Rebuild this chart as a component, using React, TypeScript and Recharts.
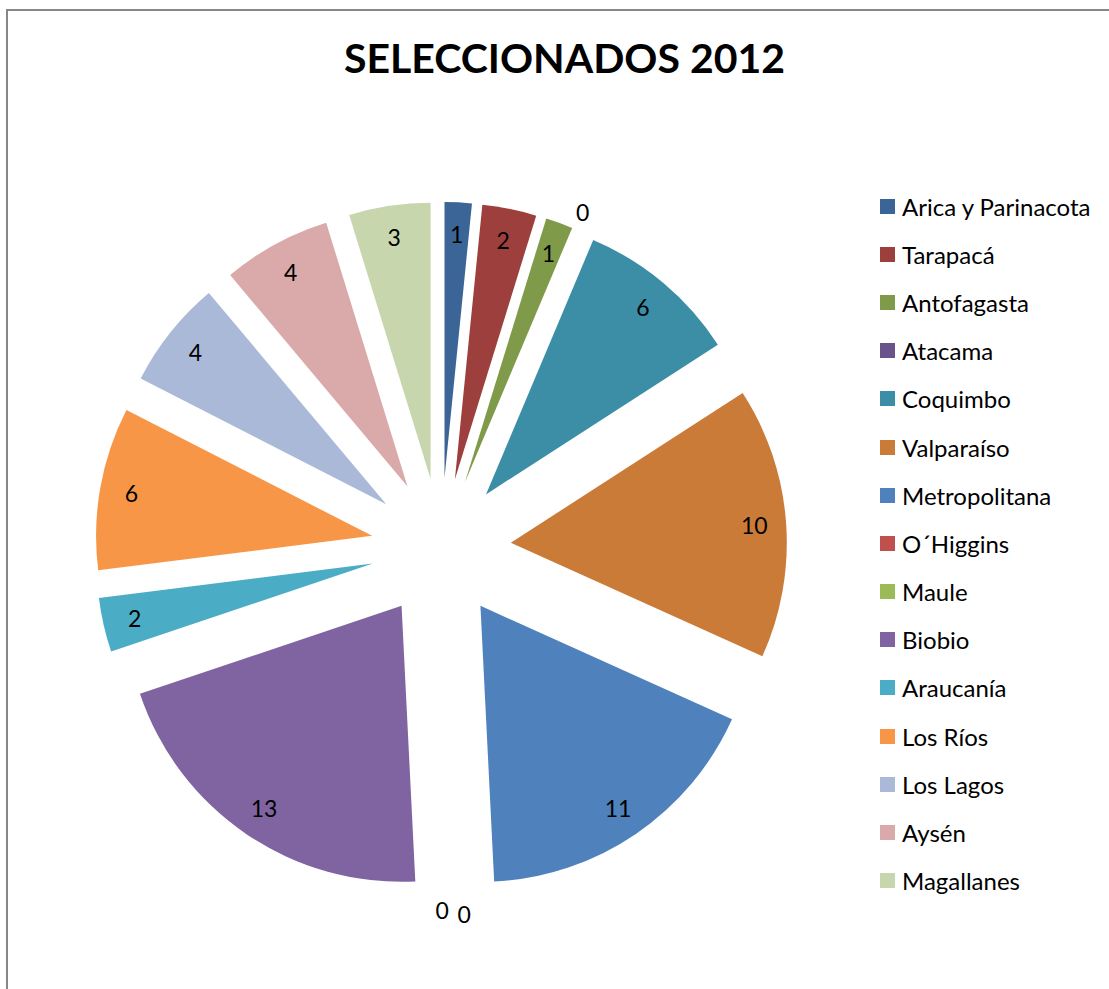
import React from "react";
import { Cell, Legend, Pie, PieChart, Sector } from "recharts";

const REGIONS = [
  "Arica y Parinacota",
  "Tarapacá",
  "Antofagasta",
  "Atacama",
  "Coquimbo",
  "Valparaíso",
  "Metropolitana",
  "O´Higgins",
  "Maule",
  "Biobio",
  "Araucanía",
  "Los Ríos",
  "Los Lagos",
  "Aysén",
  "Magallanes",
];
const SELECTED = [1, 2, 1, 0, 6, 10, 11, 0, 0, 13, 2, 6, 4, 4, 3];
const COLORS = [
  "#3C6597",
  "#9D403D",
  "#7F9A48",
  "#69538A",
  "#3B8EA5",
  "#CB7B38",
  "#4F81BD",
  "#C0504D",
  "#9BBB59",
  "#8064A2",
  "#4BACC6",
  "#F79646",
  "#AAB9D7",
  "#D9AAA9",
  "#C7D6AD",
];

const data = REGIONS.map((name, i) => ({ name, value: SELECTED[i] }));

const FONT = "Lato, 'Open Sans', sans-serif";
const EXPLODE = 70;
const RAD = Math.PI / 180;

// every slice pushed out along its own mid angle, like Excel's exploded pie
const offset = (midAngle: number, dist: number) => ({
  dx: dist * Math.cos(-midAngle * RAD),
  dy: dist * Math.sin(-midAngle * RAD),
});

function ExplodedSlice(props: any) {
  const { cx, cy, midAngle, innerRadius, outerRadius, startAngle, endAngle, fill } = props;
  const { dx, dy } = offset(midAngle, EXPLODE);
  return (
    <Sector
      cx={cx + dx}
      cy={cy + dy}
      innerRadius={innerRadius}
      outerRadius={outerRadius}
      startAngle={startAngle}
      endAngle={endAngle}
      fill={fill}
      stroke="none"
    />
  );
}

function SliceLabel(props: any) {
  const { cx, cy, midAngle, outerRadius, value, index } = props;
  const center = offset(midAngle, EXPLODE);
  const zero = value === 0;
  const pos = offset(midAngle, zero ? outerRadius + 19 : outerRadius * 0.885);
  // zero slices sharing one angle get pushed apart, as Excel does
  let nudgeX = 0;
  let nudgeY = 0;
  if (zero && SELECTED[index + 1] === 0) {
    nudgeX = -17;
    nudgeY = -3;
  }
  if (zero && SELECTED[index - 1] === 0) {
    nudgeX = 5;
    nudgeY = 1;
  }
  return (
    <text
      x={cx + center.dx + pos.dx + nudgeX}
      y={cy + center.dy + pos.dy + nudgeY}
      textAnchor="middle"
      dominantBaseline="central"
      fontFamily={FONT}
      fontSize={23}
      fill="#000"
    >
      {value}
    </text>
  );
}

function LegendList({ payload }: any) {
  const items = [...(payload ?? [])].sort(
    (a: any, b: any) => REGIONS.indexOf(a.value) - REGIONS.indexOf(b.value)
  );
  return (
    <div style={{ fontFamily: FONT, fontSize: 24, color: "#000" }}>
      {items.map((entry: any) => (
        <div key={entry.value} style={{ display: "flex", alignItems: "center", height: 48.2 }}>
          <span
            style={{
              width: 15,
              height: 15,
              marginRight: 7,
              background: entry.color ?? COLORS[REGIONS.indexOf(entry.value)],
              display: "inline-block",
              flexShrink: 0,
            }}
          />
          <span style={{ whiteSpace: "nowrap" }}>{entry.value}</span>
        </div>
      ))}
    </div>
  );
}

export default function App() {
  return (
    <div
      style={{
        position: "fixed",
        left: 0,
        top: 0,
        width: 1109,
        height: 989,
        overflow: "hidden",
        background: "#fff",
      }}
    >
      <style>{"html, body { overflow: hidden; }"}</style>
      <div
        style={{
          position: "absolute",
          left: 6,
          top: 9,
          width: 1300,
          height: 1100,
          border: "2px solid #878787",
        }}
      />
      <div
        style={{
          position: "absolute",
          left: 0,
          top: 33,
          width: 1129,
          textAlign: "center",
          fontFamily: FONT,
          fontWeight: 700,
          fontSize: 41,
          color: "#000",
        }}
      >
        SELECCIONADOS 2012
      </div>
      <div style={{ position: "absolute", left: 0, top: 0 }}>
        <PieChart width={1109} height={989}>
          <Pie
            data={data}
            dataKey="value"
            nameKey="name"
            cx={436}
            cy={543}
            innerRadius={0}
            outerRadius={276}
            startAngle={90}
            endAngle={-270}
            stroke="none"
            shape={ExplodedSlice}
            label={SliceLabel}
            labelLine={false}
            isAnimationActive={false}
          >
            {data.map((d, i) => (
              <Cell key={d.name} fill={COLORS[i]} />
            ))}
          </Pie>
          <Legend
            layout="vertical"
            align="right"
            verticalAlign="top"
            content={LegendList}
            wrapperStyle={{ left: 880, top: 182, width: 229 }}
          />
        </PieChart>
      </div>
    </div>
  );
}
